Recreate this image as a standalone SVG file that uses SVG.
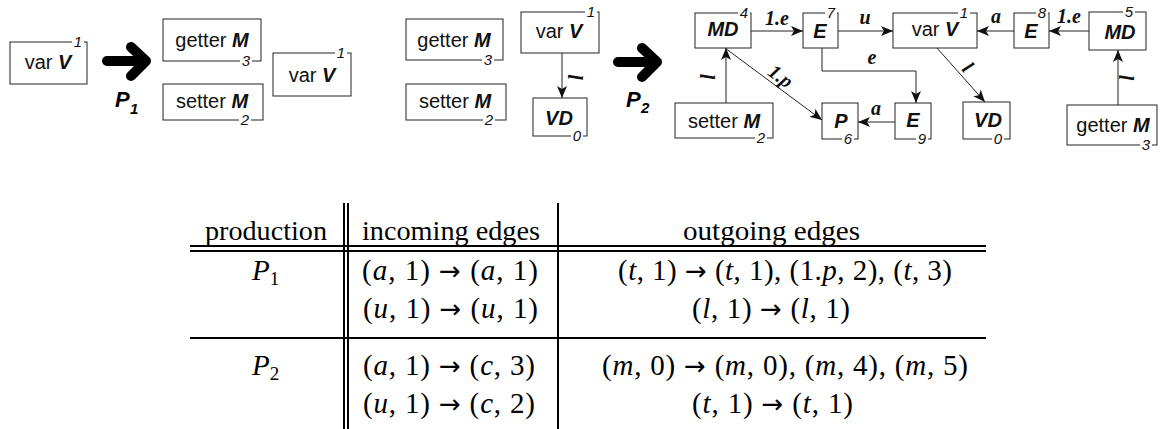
<svg xmlns="http://www.w3.org/2000/svg" width="1160" height="429" viewBox="0 0 1160 429">
<style>
.box{fill:#fff;stroke:#222;stroke-width:1}
.gap{fill:#fff;stroke:none}
.lbl{font-family:"Liberation Sans",Arial,sans-serif;font-size:20px;fill:#111;text-anchor:middle}
.bi{font-weight:bold;font-style:italic}
.idx{font-family:"Liberation Sans",Arial,sans-serif;font-style:italic;font-size:15px;fill:#111;text-anchor:middle}
.edge{stroke:#222;stroke-width:1;fill:none}
.el{font-family:"Liberation Serif","Times New Roman",serif;font-weight:bold;font-style:italic;font-size:20px;fill:#111;text-anchor:middle}
.big{stroke:#000;stroke-width:10;fill:none;stroke-linecap:round;stroke-linejoin:round}
.pl{font-family:"Liberation Sans",Arial,sans-serif;font-weight:bold;font-style:italic;fill:#000}
.tl{stroke:#000;stroke-width:2;fill:none}
.tt{font-family:"Liberation Serif","Times New Roman",serif;font-size:27px;fill:#000}
.mt{font-family:"Liberation Serif","Times New Roman",serif;font-size:29px;fill:#000}
.it{font-style:italic}
.ar{font-family:"DejaVu Sans",sans-serif;font-size:26px}
</style>
<defs>
<marker id="ah" viewBox="0 0 12 10" refX="12" refY="5" markerWidth="12" markerHeight="10" markerUnits="userSpaceOnUse" orient="auto">
<path d="M0,0 L12,5 L0,10 L3,5 z" fill="#111"/>
</marker>
</defs>

<!-- Left: P1 -->
<g id="n-varV-a">
<rect class="box" x="10" y="42" width="77" height="42"/>
<rect class="gap" x="72" y="40" width="12" height="4"/>
<text class="idx" x="78" y="47">1</text>
<text class="lbl" x="48" y="69">var <tspan class="bi">V</tspan></text>
</g>
<g id="arrow-P1">
<path class="big" d="M107,61 H146 M131,47 L146,61 L131,76"/>
<text class="pl" x="115" y="107" font-size="22">P</text>
<text class="pl" x="130" y="114" font-size="15">1</text>
</g>
<g id="n-getter-b">
<rect class="box" x="163" y="19" width="98" height="42"/>
<rect class="gap" x="240" y="59" width="12" height="4"/>
<text class="idx" x="246" y="66">3</text>
<text class="lbl" x="212" y="47">getter <tspan class="bi">M</tspan></text>
</g>
<g id="n-setter-b">
<rect class="box" x="163" y="84" width="100" height="36"/>
<rect class="gap" x="239" y="118" width="12" height="4"/>
<text class="idx" x="245" y="125">2</text>
<text class="lbl" x="212" y="108">setter <tspan class="bi">M</tspan></text>
</g>
<g id="n-varV-b">
<rect class="box" x="273" y="53" width="78" height="43"/>
<rect class="gap" x="335" y="51" width="12" height="4"/>
<text class="idx" x="341" y="58">1</text>
<text class="lbl" x="312" y="82">var <tspan class="bi">V</tspan></text>
</g>

<!-- Middle: P2 left side -->
<g id="n-getter-c">
<rect class="box" x="406" y="19" width="97" height="41"/>
<rect class="gap" x="482" y="58" width="12" height="4"/>
<text class="idx" x="488" y="65">3</text>
<text class="lbl" x="454" y="47">getter <tspan class="bi">M</tspan></text>
</g>
<g id="n-setter-c">
<rect class="box" x="406" y="84" width="100" height="36"/>
<rect class="gap" x="483" y="118" width="12" height="4"/>
<text class="idx" x="489" y="125">2</text>
<text class="lbl" x="455" y="108">setter <tspan class="bi">M</tspan></text>
</g>
<g id="n-varV-c">
<rect class="box" x="521" y="12" width="78" height="41"/>
<rect class="gap" x="585" y="10" width="12" height="4"/>
<text class="idx" x="591" y="17">1</text>
<text class="lbl" x="559" y="38">var <tspan class="bi">V</tspan></text>
</g>
<g id="n-VD-c">
<rect class="box" x="533" y="98" width="54" height="38"/>
<rect class="gap" x="571" y="134" width="12" height="4"/>
<text class="idx" x="577" y="141">0</text>
<text class="lbl bi" x="559" y="125">VD</text>
</g>
<g id="arrow-P2">
<path class="big" d="M618,62 H657 M642,48 L657,62 L642,77"/>
<text class="pl" x="626" y="107" font-size="22">P</text>
<text class="pl" x="641" y="113" font-size="15">2</text>
</g>

<!-- Right: result of P2 -->
<g id="n-MD4">
<rect class="box" x="695" y="13" width="56" height="35"/>
<rect class="gap" x="738" y="11" width="12" height="4"/>
<text class="idx" x="744" y="18">4</text>
<text class="lbl bi" x="723" y="36" font-size="21">MD</text>
</g>
<g id="n-E7">
<rect class="box" x="803" y="13" width="35" height="35"/>
<rect class="gap" x="825" y="11" width="12" height="4"/>
<text class="idx" x="831" y="18">7</text>
<text class="lbl bi" x="820" y="38" font-size="14">E</text>
</g>
<g id="n-varV-r">
<rect class="box" x="893" y="13" width="84" height="35"/>
<rect class="gap" x="958" y="11" width="12" height="4"/>
<text class="idx" x="964" y="18">1</text>
<text class="lbl" x="935" y="36">var <tspan class="bi">V</tspan></text>
</g>
<g id="n-E8">
<rect class="box" x="1014" y="13" width="35" height="35"/>
<rect class="gap" x="1036" y="11" width="12" height="4"/>
<text class="idx" x="1042" y="18">8</text>
<text class="lbl bi" x="1031" y="38" font-size="14">E</text>
</g>
<g id="n-MD5">
<rect class="box" x="1089" y="12" width="57" height="38"/>
<rect class="gap" x="1123" y="10" width="12" height="4"/>
<text class="idx" x="1129" y="17">5</text>
<text class="lbl bi" x="1120" y="39" font-size="24">MD</text>
</g>
<g id="n-setter-r">
<rect class="box" x="675" y="103" width="98" height="35"/>
<rect class="gap" x="755" y="136" width="12" height="4"/>
<text class="idx" x="761" y="143">2</text>
<text class="lbl" x="724" y="128">setter <tspan class="bi">M</tspan></text>
</g>
<g id="n-P6">
<rect class="box" x="822" y="103" width="36" height="36"/>
<rect class="gap" x="842" y="137" width="12" height="4"/>
<text class="idx" x="848" y="144">6</text>
<text class="lbl bi" x="841" y="128" font-size="22">P</text>
</g>
<g id="n-E9">
<rect class="box" x="895" y="103" width="36" height="36"/>
<rect class="gap" x="916" y="137" width="12" height="4"/>
<text class="idx" x="922" y="144">9</text>
<text class="lbl bi" x="913" y="127" font-size="14">E</text>
</g>
<g id="n-VD-r">
<rect class="box" x="963" y="102" width="47" height="37"/>
<rect class="gap" x="992" y="137" width="12" height="4"/>
<text class="idx" x="998" y="144">0</text>
<text class="lbl bi" x="988" y="127">VD</text>
</g>
<g id="n-getter-r">
<rect class="box" x="1067" y="105" width="90" height="40"/>
<rect class="gap" x="1140" y="143" width="12" height="4"/>
<text class="idx" x="1146" y="150">3</text>
<text class="lbl" x="1113" y="132">getter <tspan class="bi">M</tspan></text>
</g>

<g id="connectors">
<path class="edge" d="M562,53 V98" marker-end="url(#ah)"/>
<text class="el" transform="translate(575,77) rotate(90)" dominant-baseline="central">l</text>

<path class="edge" d="M751,31 H803" marker-end="url(#ah)"/>
<text class="el" x="777" y="25">1.e</text>
<path class="edge" d="M838,31 H893" marker-end="url(#ah)"/>
<text class="el" x="865" y="24">u</text>
<path class="edge" d="M822,48 V71 H916 V103" marker-end="url(#ah)"/>
<text class="el" x="872" y="64">e</text>
<path class="edge" d="M895,122 H858" marker-end="url(#ah)"/>
<text class="el" x="876" y="115">a</text>
<path class="edge" d="M726,103 V48" marker-end="url(#ah)"/>
<text class="el" transform="translate(708,77) rotate(-90)" dominant-baseline="central">l</text>
<path class="edge" d="M725,48 L822,120" marker-end="url(#ah)"/>
<text class="el" transform="translate(781,76) rotate(36.6)" dominant-baseline="central">1.p</text>
<path class="edge" d="M1014,31 H977" marker-end="url(#ah)"/>
<text class="el" x="996" y="23">a</text>
<path class="edge" d="M1089,31 H1049" marker-end="url(#ah)"/>
<text class="el" x="1069" y="23">1.e</text>
<path class="edge" d="M937,48 L985,102" marker-end="url(#ah)"/>
<text class="el" transform="translate(968,67) rotate(47)" dominant-baseline="central">l</text>
<path class="edge" d="M1118,105 V50" marker-end="url(#ah)"/>
<text class="el" transform="translate(1127,78) rotate(-90)" dominant-baseline="central">l</text>
</g>

<!-- Table -->
<g id="table">
<path class="tl" d="M190,246 H986 M190,251 H986 M190,338 H986"/>
<path class="tl" d="M344,203 V429 M348,203 V429" stroke-width="1.8"/>
<path class="tl" d="M558,203 V429" stroke-width="1.6"/>
<text class="tt" x="205" y="240" textLength="122" lengthAdjust="spacingAndGlyphs">production</text>
<text class="tt" x="362" y="240" textLength="178" lengthAdjust="spacingAndGlyphs">incoming edges</text>
<text class="tt" x="683" y="240" textLength="177" lengthAdjust="spacingAndGlyphs">outgoing edges</text>

<text class="mt" x="252" y="280"><tspan class="it">P</tspan><tspan font-size="19" dy="5">1</tspan></text>
<text class="mt" x="252" y="375"><tspan class="it">P</tspan><tspan font-size="19" dy="5">2</tspan></text>

<text class="mt" x="362" y="280" textLength="176" lengthAdjust="spacing">(<tspan class="it">a</tspan>, 1) <tspan class="ar">→</tspan> (<tspan class="it">a</tspan>, 1)</text>
<text class="mt" x="363" y="318" textLength="175" lengthAdjust="spacing">(<tspan class="it">u</tspan>, 1) <tspan class="ar">→</tspan> (<tspan class="it">u</tspan>, 1)</text>
<text class="mt" x="363" y="375" textLength="172" lengthAdjust="spacing">(<tspan class="it">a</tspan>, 1) <tspan class="ar">→</tspan> (<tspan class="it">c</tspan>, 3)</text>
<text class="mt" x="363" y="413" textLength="172" lengthAdjust="spacing">(<tspan class="it">u</tspan>, 1) <tspan class="ar">→</tspan> (<tspan class="it">c</tspan>, 2)</text>

<text class="mt" x="618" y="280" textLength="334" lengthAdjust="spacing">(<tspan class="it">t</tspan>, 1) <tspan class="ar">→</tspan> (<tspan class="it">t</tspan>, 1), (1.<tspan class="it">p</tspan>, 2), (<tspan class="it">t</tspan>, 3)</text>
<text class="mt" x="692" y="318" textLength="158" lengthAdjust="spacing">(<tspan class="it">l</tspan>, 1) <tspan class="ar">→</tspan> (<tspan class="it">l</tspan>, 1)</text>
<text class="mt" x="602" y="375" textLength="366" lengthAdjust="spacing">(<tspan class="it">m</tspan>, 0) <tspan class="ar">→</tspan> (<tspan class="it">m</tspan>, 0), (<tspan class="it">m</tspan>, 4), (<tspan class="it">m</tspan>, 5)</text>
<text class="mt" x="692" y="413" textLength="161" lengthAdjust="spacing">(<tspan class="it">t</tspan>, 1) <tspan class="ar">→</tspan> (<tspan class="it">t</tspan>, 1)</text>
</g>
</svg>
